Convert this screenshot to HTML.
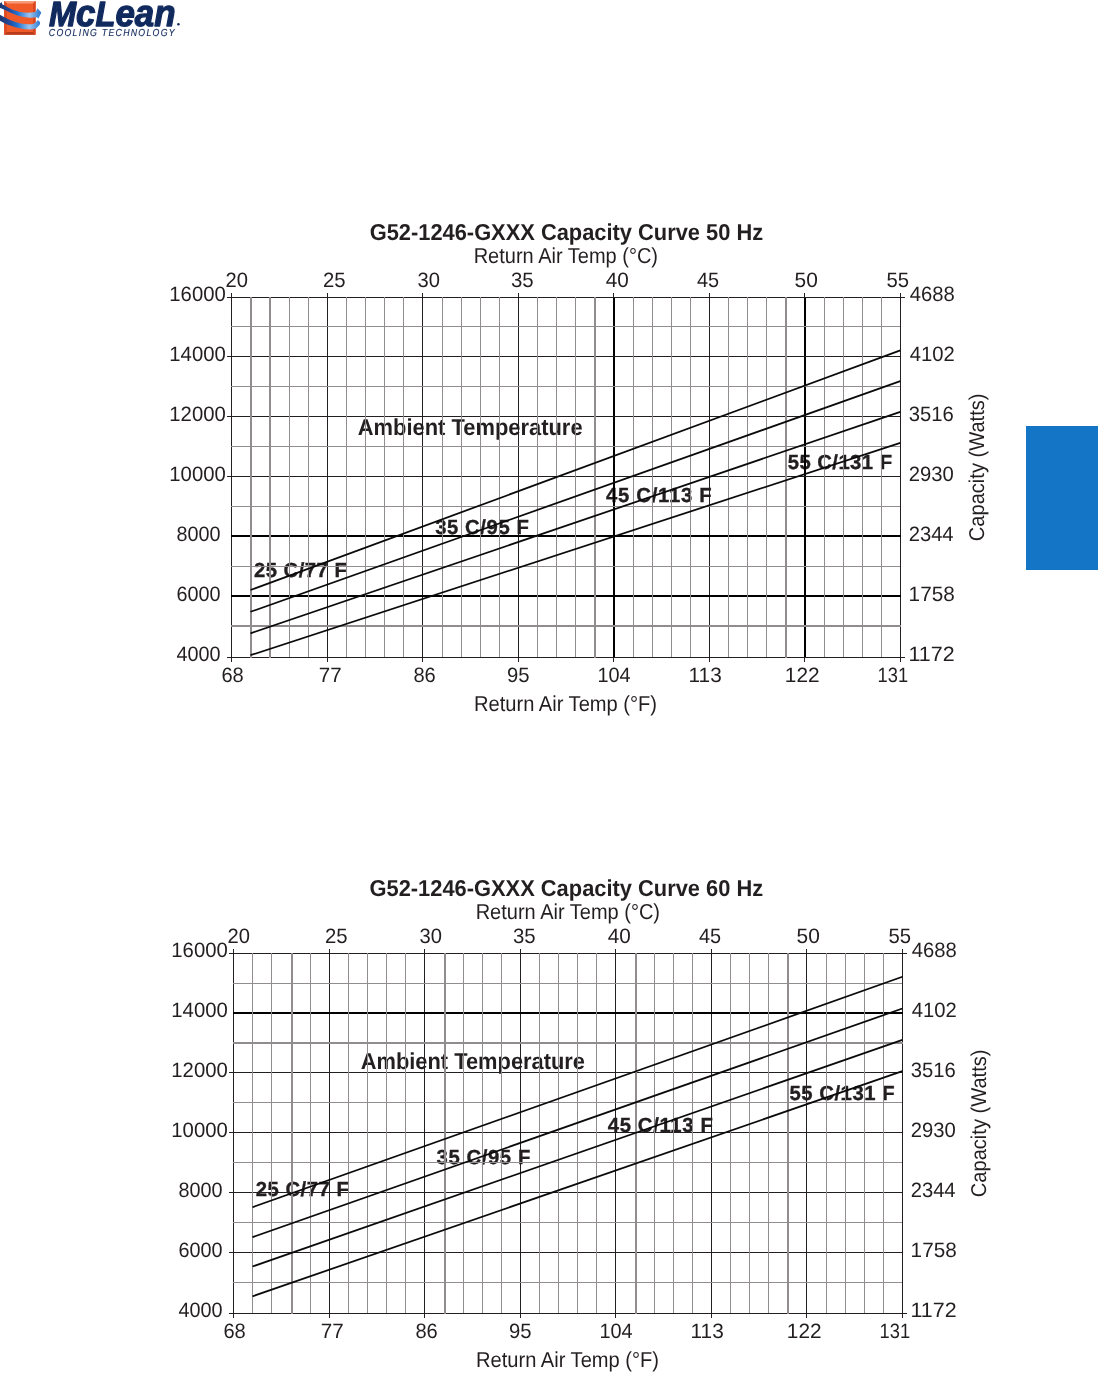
<!DOCTYPE html>
<html><head><meta charset="utf-8"><title>G52-1246-GXXX Capacity Curves</title>
<style>
html,body{margin:0;padding:0;background:#fff;}
body{width:1098px;height:1380px;overflow:hidden;}
svg{display:block;will-change:transform;}
#texts text.ann{stroke:#231f20;stroke-width:0.35px;}
#texts text{font-family:'Liberation Sans', Arial, sans-serif;fill:#231f20;text-rendering:geometricPrecision;}
</style></head><body>
<svg width="1098" height="1380" viewBox="0 0 1098 1380">
<rect width="1098" height="1380" fill="#fff"/>
<defs>
<linearGradient id="sw" x1="0" y1="0" x2="42" y2="0" gradientUnits="userSpaceOnUse">
<stop offset="0" stop-color="#1b3670"/>
<stop offset="0.22" stop-color="#22499a"/>
<stop offset="0.42" stop-color="#1f74d4"/>
<stop offset="0.7" stop-color="#9cc4ef"/>
<stop offset="0.85" stop-color="#5c9be0"/>
<stop offset="1" stop-color="#1f6fcc"/>
</linearGradient>
</defs>
<g>
<rect x="4.2" y="1" width="31.4" height="33.7" fill="#f15a29"/>
<polygon points="4.2,1 35.6,1 33,3.6 6.8,3.6" fill="#f59a7a"/>
<polygon points="4.2,34.7 35.6,34.7 33,32.1 6.8,32.1" fill="#b83c1c"/>
<polygon points="4.2,1 6.8,3.6 6.8,32.1 4.2,34.7" fill="#dc4a22"/>
<polygon points="35.6,1 33,3.6 33,32.1 35.6,34.7" fill="#d84520"/>
<path d="M0,3.6 L1.5,2 L2.4,4.6 C5,5.6 7.5,7.3 10,8.6 C13.5,10.3 16.5,11.4 20,12 C24,12.8 28,12.9 32,12.6 L35.5,12 L37.5,8.2 L41.3,12.4 L38.5,18.5 L36.8,17.2 C33,17.9 29,17.8 25,17.2 C20,16.3 15,14.6 10,12.4 C6,10.6 3,9 0,8 Z" fill="url(#sw)"/>
<path d="M0,14.8 C3.5,16.6 6.5,18.6 10,20 C14,21.6 17,22.6 20,23.2 C24,23.9 28,24.4 31,24.2 C34,24 36,22.6 37.5,20.2 C39.5,20.8 40.6,22.3 40,24 C39.5,25.7 38,26.3 36.5,28.2 C33,29.5 30,29.6 25,29.3 C20,28.6 15,27.4 10,25.6 C6,24.2 3,22.6 0,20.8 Z" fill="url(#sw)"/>
</g>
<text text-rendering="geometricPrecision" x="49" y="25.6" font-family="'Liberation Sans', Arial, sans-serif" font-weight="bold" font-style="italic" font-size="35" fill="#112a5e" stroke="#112a5e" stroke-width="1.3" stroke-linejoin="round" textLength="126.5" lengthAdjust="spacingAndGlyphs">M<tspan font-size="37.5">c</tspan>L<tspan font-size="37.5">ean</tspan></text>
<circle cx="178.4" cy="24.3" r="1.25" fill="#112a5e"/>
<text text-rendering="geometricPrecision" transform="translate(48.8,36.0) scale(0.86,1)" x="0" y="0" font-family="'Liberation Sans', Arial, sans-serif" font-style="italic" font-size="10.2" fill="#112a5e" stroke="#112a5e" stroke-width="0.15" textLength="146.3" lengthAdjust="spacing">COOLING TECHNOLOGY</text>

<g id="texts">
<text id="atitle" x="369.70" y="240.30" font-size="23.00" font-weight="bold" textLength="393.41" lengthAdjust="spacingAndGlyphs">G52-1246-GXXX Capacity Curve 50 Hz</text>
<text id="arat" x="473.67" y="262.80" font-size="21.60" font-weight="normal" textLength="184.35" lengthAdjust="spacingAndGlyphs">Return Air Temp (°C)</text>
<text id="at20" x="225.54" y="286.80" font-size="20.80" font-weight="normal" textLength="22.44" lengthAdjust="spacingAndGlyphs">20</text>
<text id="at25" x="322.94" y="286.80" font-size="20.80" font-weight="normal" textLength="22.65" lengthAdjust="spacingAndGlyphs">25</text>
<text id="at30" x="417.54" y="286.80" font-size="20.80" font-weight="normal" textLength="22.44" lengthAdjust="spacingAndGlyphs">30</text>
<text id="at35" x="510.93" y="286.80" font-size="20.80" font-weight="normal" textLength="22.74" lengthAdjust="spacingAndGlyphs">35</text>
<text id="at40" x="605.83" y="286.80" font-size="20.80" font-weight="normal" textLength="23.06" lengthAdjust="spacingAndGlyphs">40</text>
<text id="at45" x="697.02" y="286.80" font-size="20.80" font-weight="normal" textLength="22.15" lengthAdjust="spacingAndGlyphs">45</text>
<text id="at50" x="794.56" y="286.80" font-size="20.80" font-weight="normal" textLength="23.26" lengthAdjust="spacingAndGlyphs">50</text>
<text id="at55" x="886.38" y="286.80" font-size="20.80" font-weight="normal" textLength="22.59" lengthAdjust="spacingAndGlyphs">55</text>
<text id="al16000" x="169.33" y="301.00" font-size="20.80" font-weight="normal" textLength="56.42" lengthAdjust="spacingAndGlyphs">16000</text>
<text id="al14000" x="169.33" y="361.00" font-size="20.80" font-weight="normal" textLength="56.42" lengthAdjust="spacingAndGlyphs">14000</text>
<text id="al12000" x="169.33" y="421.00" font-size="20.80" font-weight="normal" textLength="56.42" lengthAdjust="spacingAndGlyphs">12000</text>
<text id="al10000" x="169.33" y="481.00" font-size="20.80" font-weight="normal" textLength="56.42" lengthAdjust="spacingAndGlyphs">10000</text>
<text id="al8000" x="176.55" y="541.00" font-size="20.80" font-weight="normal" textLength="44.07" lengthAdjust="spacingAndGlyphs">8000</text>
<text id="al6000" x="176.54" y="601.00" font-size="20.80" font-weight="normal" textLength="44.07" lengthAdjust="spacingAndGlyphs">6000</text>
<text id="al4000" x="176.57" y="661.00" font-size="20.80" font-weight="normal" textLength="44.07" lengthAdjust="spacingAndGlyphs">4000</text>
<text id="ar4688" x="909.69" y="301.00" font-size="20.80" font-weight="normal" textLength="44.98" lengthAdjust="spacingAndGlyphs">4688</text>
<text id="ar4102" x="909.69" y="361.00" font-size="20.80" font-weight="normal" textLength="44.98" lengthAdjust="spacingAndGlyphs">4102</text>
<text id="ar3516" x="908.64" y="421.00" font-size="20.80" font-weight="normal" textLength="45.03" lengthAdjust="spacingAndGlyphs">3516</text>
<text id="ar2930" x="908.64" y="481.00" font-size="20.80" font-weight="normal" textLength="45.03" lengthAdjust="spacingAndGlyphs">2930</text>
<text id="ar2344" x="908.64" y="541.00" font-size="20.80" font-weight="normal" textLength="45.00" lengthAdjust="spacingAndGlyphs">2344</text>
<text id="ar1758" x="908.61" y="601.00" font-size="20.80" font-weight="normal" textLength="46.07" lengthAdjust="spacingAndGlyphs">1758</text>
<text id="ar1172" x="908.54" y="661.00" font-size="20.80" font-weight="normal" textLength="46.15" lengthAdjust="spacingAndGlyphs">1172</text>
<text id="ab68" x="221.41" y="681.90" font-size="20.80" font-weight="normal" textLength="22.34" lengthAdjust="spacingAndGlyphs">68</text>
<text id="ab77" x="318.87" y="681.90" font-size="20.80" font-weight="normal" textLength="22.91" lengthAdjust="spacingAndGlyphs">77</text>
<text id="ab86" x="413.41" y="681.90" font-size="20.80" font-weight="normal" textLength="22.34" lengthAdjust="spacingAndGlyphs">86</text>
<text id="ab95" x="506.91" y="681.90" font-size="20.80" font-weight="normal" textLength="22.60" lengthAdjust="spacingAndGlyphs">95</text>
<text id="ab104" x="597.42" y="681.90" font-size="20.80" font-weight="normal" textLength="33.21" lengthAdjust="spacingAndGlyphs">104</text>
<text id="ab113" x="688.60" y="681.90" font-size="20.80" font-weight="normal" textLength="33.17" lengthAdjust="spacingAndGlyphs">113</text>
<text id="ab122" x="784.84" y="681.90" font-size="20.80" font-weight="normal" textLength="34.78" lengthAdjust="spacingAndGlyphs">122</text>
<text id="ab131" x="877.62" y="681.90" font-size="20.80" font-weight="normal" textLength="30.57" lengthAdjust="spacingAndGlyphs">131</text>
<text id="araf" x="474.07" y="711.00" font-size="21.60" font-weight="normal" textLength="182.94" lengthAdjust="spacingAndGlyphs">Return Air Temp (°F)</text>
<text id="acap" transform="translate(984.20,541.22) rotate(-90)" x="0" y="0" font-size="21.40" font-weight="normal" textLength="147.73" lengthAdjust="spacingAndGlyphs">Capacity (Watts)</text>
<text id="aamb" x="357.79" y="434.60" font-size="23.00" font-weight="bold" textLength="224.81" lengthAdjust="spacingAndGlyphs">Ambient Temperature</text>
<text id="ac25" class="ann" x="253.88" y="576.70" font-size="20.30" font-weight="bold" textLength="92.94" lengthAdjust="spacing">25 C/77 F</text>
<text id="ac35" class="ann" x="435.19" y="533.90" font-size="20.30" font-weight="bold" textLength="93.71" lengthAdjust="spacing">35 C/95 F</text>
<text id="ac45" class="ann" x="606.00" y="501.70" font-size="20.30" font-weight="bold" textLength="105.71" lengthAdjust="spacing">45 C/113 F</text>
<text id="ac55" class="ann" x="787.68" y="469.30" font-size="20.30" font-weight="bold" textLength="104.35" lengthAdjust="spacing">55 C/131 F</text>
<text id="btitle" x="369.49" y="896.20" font-size="23.00" font-weight="bold" textLength="393.72" lengthAdjust="spacingAndGlyphs">G52-1246-GXXX Capacity Curve 60 Hz</text>
<text id="brat" x="475.67" y="918.80" font-size="21.60" font-weight="normal" textLength="184.35" lengthAdjust="spacingAndGlyphs">Return Air Temp (°C)</text>
<text id="bt20" x="227.54" y="942.80" font-size="20.80" font-weight="normal" textLength="22.44" lengthAdjust="spacingAndGlyphs">20</text>
<text id="bt25" x="324.94" y="942.80" font-size="20.80" font-weight="normal" textLength="22.65" lengthAdjust="spacingAndGlyphs">25</text>
<text id="bt30" x="419.54" y="942.80" font-size="20.80" font-weight="normal" textLength="22.44" lengthAdjust="spacingAndGlyphs">30</text>
<text id="bt35" x="512.93" y="942.80" font-size="20.80" font-weight="normal" textLength="22.74" lengthAdjust="spacingAndGlyphs">35</text>
<text id="bt40" x="607.83" y="942.80" font-size="20.80" font-weight="normal" textLength="23.06" lengthAdjust="spacingAndGlyphs">40</text>
<text id="bt45" x="699.02" y="942.80" font-size="20.80" font-weight="normal" textLength="22.15" lengthAdjust="spacingAndGlyphs">45</text>
<text id="bt50" x="796.57" y="942.80" font-size="20.80" font-weight="normal" textLength="23.26" lengthAdjust="spacingAndGlyphs">50</text>
<text id="bt55" x="888.38" y="942.80" font-size="20.80" font-weight="normal" textLength="22.59" lengthAdjust="spacingAndGlyphs">55</text>
<text id="bl16000" x="171.33" y="957.00" font-size="20.80" font-weight="normal" textLength="56.42" lengthAdjust="spacingAndGlyphs">16000</text>
<text id="bl14000" x="171.33" y="1017.00" font-size="20.80" font-weight="normal" textLength="56.42" lengthAdjust="spacingAndGlyphs">14000</text>
<text id="bl12000" x="171.33" y="1077.00" font-size="20.80" font-weight="normal" textLength="56.42" lengthAdjust="spacingAndGlyphs">12000</text>
<text id="bl10000" x="171.33" y="1137.00" font-size="20.80" font-weight="normal" textLength="56.42" lengthAdjust="spacingAndGlyphs">10000</text>
<text id="bl8000" x="178.55" y="1197.00" font-size="20.80" font-weight="normal" textLength="44.07" lengthAdjust="spacingAndGlyphs">8000</text>
<text id="bl6000" x="178.54" y="1257.00" font-size="20.80" font-weight="normal" textLength="44.07" lengthAdjust="spacingAndGlyphs">6000</text>
<text id="bl4000" x="178.57" y="1317.00" font-size="20.80" font-weight="normal" textLength="44.07" lengthAdjust="spacingAndGlyphs">4000</text>
<text id="br4688" x="911.69" y="957.00" font-size="20.80" font-weight="normal" textLength="44.98" lengthAdjust="spacingAndGlyphs">4688</text>
<text id="br4102" x="911.69" y="1017.00" font-size="20.80" font-weight="normal" textLength="44.98" lengthAdjust="spacingAndGlyphs">4102</text>
<text id="br3516" x="910.64" y="1077.00" font-size="20.80" font-weight="normal" textLength="45.03" lengthAdjust="spacingAndGlyphs">3516</text>
<text id="br2930" x="910.64" y="1137.00" font-size="20.80" font-weight="normal" textLength="45.03" lengthAdjust="spacingAndGlyphs">2930</text>
<text id="br2344" x="910.64" y="1197.00" font-size="20.80" font-weight="normal" textLength="45.00" lengthAdjust="spacingAndGlyphs">2344</text>
<text id="br1758" x="910.61" y="1257.00" font-size="20.80" font-weight="normal" textLength="46.07" lengthAdjust="spacingAndGlyphs">1758</text>
<text id="br1172" x="910.54" y="1317.00" font-size="20.80" font-weight="normal" textLength="46.15" lengthAdjust="spacingAndGlyphs">1172</text>
<text id="bb68" x="223.41" y="1337.90" font-size="20.80" font-weight="normal" textLength="22.34" lengthAdjust="spacingAndGlyphs">68</text>
<text id="bb77" x="320.87" y="1337.90" font-size="20.80" font-weight="normal" textLength="22.91" lengthAdjust="spacingAndGlyphs">77</text>
<text id="bb86" x="415.41" y="1337.90" font-size="20.80" font-weight="normal" textLength="22.34" lengthAdjust="spacingAndGlyphs">86</text>
<text id="bb95" x="508.91" y="1337.90" font-size="20.80" font-weight="normal" textLength="22.60" lengthAdjust="spacingAndGlyphs">95</text>
<text id="bb104" x="599.42" y="1337.90" font-size="20.80" font-weight="normal" textLength="33.21" lengthAdjust="spacingAndGlyphs">104</text>
<text id="bb113" x="690.60" y="1337.90" font-size="20.80" font-weight="normal" textLength="33.17" lengthAdjust="spacingAndGlyphs">113</text>
<text id="bb122" x="786.84" y="1337.90" font-size="20.80" font-weight="normal" textLength="34.78" lengthAdjust="spacingAndGlyphs">122</text>
<text id="bb131" x="879.62" y="1337.90" font-size="20.80" font-weight="normal" textLength="30.57" lengthAdjust="spacingAndGlyphs">131</text>
<text id="braf" x="476.07" y="1367.00" font-size="21.60" font-weight="normal" textLength="182.94" lengthAdjust="spacingAndGlyphs">Return Air Temp (°F)</text>
<text id="bcap" transform="translate(986.20,1197.22) rotate(-90)" x="0" y="0" font-size="21.40" font-weight="normal" textLength="147.73" lengthAdjust="spacingAndGlyphs">Capacity (Watts)</text>
<text id="bamb" x="360.69" y="1069.00" font-size="23.00" font-weight="bold" textLength="224.32" lengthAdjust="spacingAndGlyphs">Ambient Temperature</text>
<text id="bc25" class="ann" x="255.68" y="1196.40" font-size="20.30" font-weight="bold" textLength="93.24" lengthAdjust="spacing">25 C/77 F</text>
<text id="bc35" class="ann" x="436.59" y="1164.20" font-size="20.30" font-weight="bold" textLength="93.71" lengthAdjust="spacing">35 C/95 F</text>
<text id="bc45" class="ann" x="607.70" y="1131.90" font-size="20.30" font-weight="bold" textLength="105.12" lengthAdjust="spacing">45 C/113 F</text>
<text id="bc55" class="ann" x="789.38" y="1099.90" font-size="20.30" font-weight="bold" textLength="105.26" lengthAdjust="spacing">55 C/131 F</text>
</g>
<g shape-rendering="crispEdges">
<rect x="231" y="293" width="1" height="369" fill="#231f20"/>
<rect x="327" y="293" width="1" height="369" fill="#231f20"/>
<rect x="422" y="293" width="1" height="369" fill="#231f20"/>
<rect x="518" y="293" width="1" height="369" fill="#231f20"/>
<rect x="613" y="297" width="2" height="361" fill="#000"/>
<rect x="613" y="293" width="1" height="4" fill="#231f20"/>
<rect x="613" y="658" width="1" height="4" fill="#231f20"/>
<rect x="709" y="293" width="1" height="369" fill="#231f20"/>
<rect x="804" y="297" width="2" height="361" fill="#000"/>
<rect x="804" y="293" width="1" height="4" fill="#231f20"/>
<rect x="804" y="658" width="1" height="4" fill="#231f20"/>
<rect x="900" y="293" width="1" height="369" fill="#231f20"/>
<rect x="227" y="297" width="678" height="1" fill="#231f20"/>
<rect x="227" y="356" width="674" height="1" fill="#231f20"/>
<rect x="227" y="416" width="674" height="1" fill="#231f20"/>
<rect x="227" y="476" width="674" height="1" fill="#231f20"/>
<rect x="231" y="535" width="670" height="2" fill="#000"/>
<rect x="231" y="595" width="670" height="2" fill="#000"/>
<rect x="227" y="657" width="678" height="1" fill="#231f20"/>
<rect x="250" y="297" width="2" height="361" fill="#918d8f"/>
<rect x="269" y="297" width="2" height="361" fill="#918d8f"/>
<rect x="289" y="297" width="1" height="360" fill="#918d8f"/>
<rect x="308" y="297" width="1" height="360" fill="#918d8f"/>
<rect x="346" y="297" width="1" height="360" fill="#918d8f"/>
<rect x="365" y="297" width="1" height="360" fill="#918d8f"/>
<rect x="384" y="297" width="1" height="360" fill="#918d8f"/>
<rect x="403" y="297" width="1" height="360" fill="#918d8f"/>
<rect x="442" y="297" width="1" height="360" fill="#918d8f"/>
<rect x="461" y="297" width="1" height="360" fill="#918d8f"/>
<rect x="480" y="297" width="1" height="360" fill="#918d8f"/>
<rect x="499" y="297" width="1" height="360" fill="#918d8f"/>
<rect x="537" y="297" width="1" height="360" fill="#918d8f"/>
<rect x="556" y="297" width="1" height="360" fill="#918d8f"/>
<rect x="575" y="297" width="1" height="360" fill="#918d8f"/>
<rect x="594" y="297" width="2" height="361" fill="#918d8f"/>
<rect x="633" y="297" width="1" height="360" fill="#918d8f"/>
<rect x="652" y="297" width="1" height="360" fill="#918d8f"/>
<rect x="671" y="297" width="1" height="360" fill="#918d8f"/>
<rect x="690" y="297" width="1" height="360" fill="#918d8f"/>
<rect x="728" y="297" width="1" height="360" fill="#918d8f"/>
<rect x="747" y="297" width="1" height="360" fill="#918d8f"/>
<rect x="766" y="297" width="1" height="360" fill="#918d8f"/>
<rect x="785" y="297" width="2" height="361" fill="#918d8f"/>
<rect x="824" y="297" width="1" height="360" fill="#918d8f"/>
<rect x="843" y="297" width="1" height="360" fill="#918d8f"/>
<rect x="862" y="297" width="1" height="360" fill="#918d8f"/>
<rect x="881" y="297" width="1" height="360" fill="#918d8f"/>
<rect x="231" y="326" width="669" height="1" fill="#918d8f"/>
<rect x="231" y="386" width="669" height="1" fill="#918d8f"/>
<rect x="231" y="446" width="669" height="1" fill="#918d8f"/>
<rect x="231" y="506" width="669" height="1" fill="#918d8f"/>
<rect x="231" y="566" width="669" height="1" fill="#918d8f"/>
<rect x="231" y="625" width="670" height="2" fill="#918d8f"/>
<rect x="233" y="949" width="1" height="369" fill="#231f20"/>
<rect x="329" y="949" width="1" height="369" fill="#231f20"/>
<rect x="424" y="949" width="1" height="369" fill="#231f20"/>
<rect x="520" y="949" width="1" height="369" fill="#231f20"/>
<rect x="615" y="949" width="1" height="369" fill="#231f20"/>
<rect x="711" y="949" width="1" height="369" fill="#231f20"/>
<rect x="806" y="949" width="1" height="369" fill="#231f20"/>
<rect x="902" y="949" width="1" height="369" fill="#231f20"/>
<rect x="229" y="953" width="678" height="1" fill="#231f20"/>
<rect x="233" y="1012" width="670" height="2" fill="#000"/>
<rect x="229" y="1072" width="674" height="1" fill="#231f20"/>
<rect x="229" y="1132" width="674" height="1" fill="#231f20"/>
<rect x="229" y="1192" width="674" height="1" fill="#231f20"/>
<rect x="229" y="1252" width="674" height="1" fill="#231f20"/>
<rect x="229" y="1313" width="678" height="1" fill="#231f20"/>
<rect x="252" y="953" width="1" height="360" fill="#918d8f"/>
<rect x="271" y="953" width="1" height="360" fill="#918d8f"/>
<rect x="291" y="953" width="2" height="361" fill="#918d8f"/>
<rect x="310" y="953" width="1" height="360" fill="#918d8f"/>
<rect x="348" y="953" width="1" height="360" fill="#918d8f"/>
<rect x="367" y="953" width="1" height="360" fill="#918d8f"/>
<rect x="386" y="953" width="1" height="360" fill="#918d8f"/>
<rect x="405" y="953" width="1" height="360" fill="#918d8f"/>
<rect x="444" y="953" width="2" height="361" fill="#918d8f"/>
<rect x="463" y="953" width="1" height="360" fill="#918d8f"/>
<rect x="482" y="953" width="1" height="360" fill="#918d8f"/>
<rect x="501" y="953" width="1" height="360" fill="#918d8f"/>
<rect x="539" y="953" width="1" height="360" fill="#918d8f"/>
<rect x="558" y="953" width="1" height="360" fill="#918d8f"/>
<rect x="577" y="953" width="1" height="360" fill="#918d8f"/>
<rect x="596" y="953" width="1" height="360" fill="#918d8f"/>
<rect x="635" y="953" width="2" height="361" fill="#918d8f"/>
<rect x="654" y="953" width="1" height="360" fill="#918d8f"/>
<rect x="673" y="953" width="1" height="360" fill="#918d8f"/>
<rect x="692" y="953" width="1" height="360" fill="#918d8f"/>
<rect x="730" y="953" width="1" height="360" fill="#918d8f"/>
<rect x="749" y="953" width="1" height="360" fill="#918d8f"/>
<rect x="768" y="953" width="1" height="360" fill="#918d8f"/>
<rect x="787" y="953" width="2" height="361" fill="#918d8f"/>
<rect x="826" y="953" width="1" height="360" fill="#918d8f"/>
<rect x="845" y="953" width="1" height="360" fill="#918d8f"/>
<rect x="864" y="953" width="1" height="360" fill="#918d8f"/>
<rect x="883" y="953" width="1" height="360" fill="#918d8f"/>
<rect x="233" y="983" width="669" height="1" fill="#918d8f"/>
<rect x="233" y="1042" width="670" height="2" fill="#918d8f"/>
<rect x="233" y="1102" width="669" height="1" fill="#918d8f"/>
<rect x="233" y="1162" width="669" height="1" fill="#918d8f"/>
<rect x="233" y="1222" width="669" height="1" fill="#918d8f"/>
<rect x="233" y="1282" width="669" height="1" fill="#918d8f"/>
</g>
<line x1="250.5" y1="590" x2="900.3" y2="350.4" stroke="#0a0a0a" stroke-width="1.75"/>
<line x1="250.5" y1="611.8" x2="900.3" y2="381.1" stroke="#0a0a0a" stroke-width="1.75"/>
<line x1="250.5" y1="633.3" x2="900.3" y2="411.8" stroke="#0a0a0a" stroke-width="1.75"/>
<line x1="250.5" y1="655.2" x2="900.3" y2="442.9" stroke="#0a0a0a" stroke-width="1.75"/>
<line x1="252.5" y1="1207.2" x2="902.4" y2="976.8" stroke="#0a0a0a" stroke-width="1.75"/>
<line x1="252.5" y1="1237.2" x2="902.4" y2="1008.5" stroke="#0a0a0a" stroke-width="1.75"/>
<line x1="252.5" y1="1266.5" x2="902.4" y2="1039.8" stroke="#0a0a0a" stroke-width="1.75"/>
<line x1="252.5" y1="1296.3" x2="902.4" y2="1071.1" stroke="#0a0a0a" stroke-width="1.75"/>
<rect x="1026" y="426" width="72" height="144" fill="#1474c6"/>
</svg>
</body></html>
